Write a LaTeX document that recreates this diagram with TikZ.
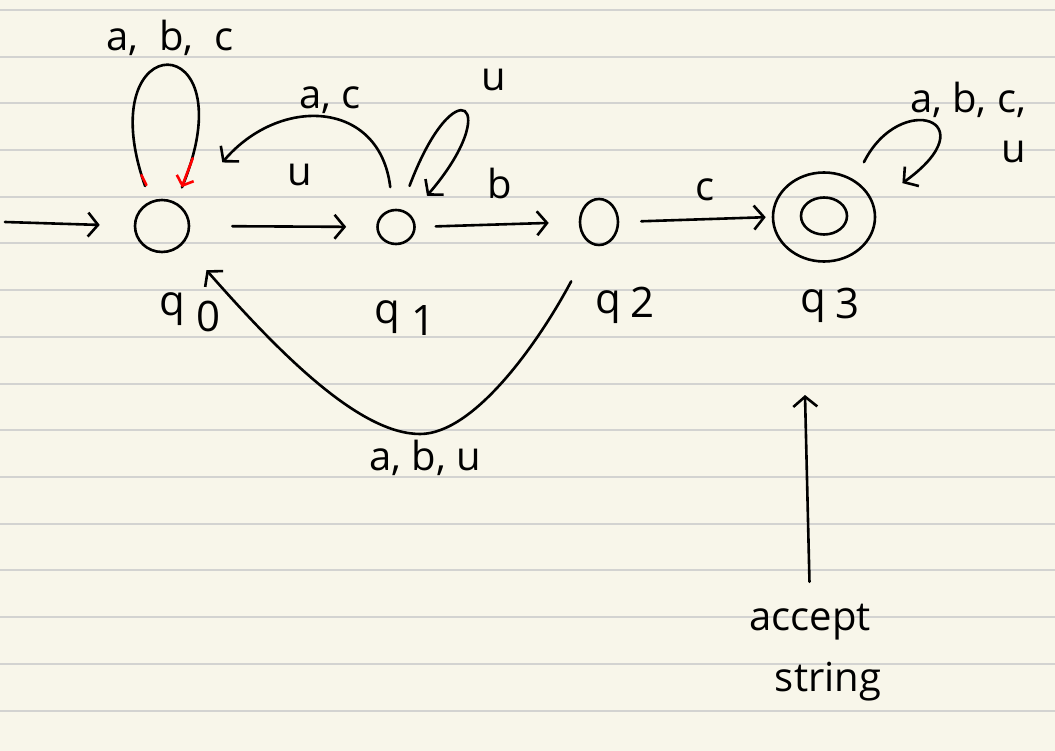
\documentclass[tikz,border=0pt]{standalone}
\usepackage{fontspec}
\setmainfont{Open Sans}
\usetikzlibrary{arrows.meta,shapes.geometric,calc}
\definecolor{paper}{HTML}{F8F6EA}
\definecolor{ruled}{HTML}{D3D3D1}
\begin{document}
\begin{tikzpicture}[x=1pt,y=-1pt,
  state/.style={draw, ellipse, line width=2.6pt, inner sep=0pt},
  edge/.style={draw, line width=2.6pt, line cap=round, -{Straight Barb[length=10pt,width=24pt]}},
  plain/.style={draw, line width=2.6pt, line cap=round},
  lbl/.style={font=\fontsize{40}{44}\selectfont, inner sep=0pt},
  qlbl/.style={font=\fontsize{42}{44}\selectfont, inner sep=0pt}]
\fill[paper] (0,0) rectangle (1055,751);
\useasboundingbox (0,0) rectangle (1055,751);
\foreach \k in {0,...,15} \draw[ruled, line width=2pt] (0,10+46.7*\k) -- (1055,10+46.7*\k);

% states
\node[state, minimum width=54pt, minimum height=52pt] (q0) at (162,226) {};
\node[state, minimum width=37pt, minimum height=34pt] (q1) at (396,227) {};
\node[state, minimum width=38pt, minimum height=46pt] (q2) at (599,222) {};
\node[state, minimum width=102pt, minimum height=89pt] (q3) at (824,217) {};
\node[state, minimum width=46pt, minimum height=37pt] (q3in) at (824,216) {};

% state names
\node[qlbl] (lq0) at (190,312) {q\hspace{12pt}\raisebox{-16pt}{0}};
\node[qlbl] (lq1) at (405,318) {q\hspace{12pt}\raisebox{-12pt}{1}};
\node[qlbl] (lq2) at (625,305) {q\hspace{10pt}\raisebox{-4pt}{2}};
\node[qlbl] (lq3) at (830,305) {q\hspace{10pt}\raisebox{-6pt}{3}};

% start arrow
\coordinate (start) at (5,222);
\draw[edge, shorten >=34pt] (start) -- (q0.west);

% q0 loop (red ends)
\draw[plain, shorten <=16pt, shorten >=16pt] (q0.115) .. controls (88,24) and (250,24) .. (q0.60);
\draw[red, line width=2.6pt, line cap=round] ($(q0.115)+(-9,-26)$) -- ($(q0.115)+(-4,-16)$);
\draw[red, line width=2.6pt, line cap=round, -{Straight Barb[length=8pt,width=18pt]}] ($(q0.60)+(17,-44)$) -- ($(q0.60)+(6,-15)$);
\node[lbl] (l00) at (170,38) {a,\ \ b,\ \ c};

% q0 -> q1
\draw[edge, shorten <=42pt, shorten >=30pt] (q0.east) -- (q1.west);
\node[lbl] (l01) at (300,175) {u};

% q1 -> q0
\draw[edge, shorten <=22pt, shorten >=60pt] (q1.100) .. controls (380,100) and (280,95) .. (q0.40);
\node[lbl] (l10) at (330,100) {a,\ c};

% q1 loop
\draw[edge, shorten <=25pt, shorten >=25pt] (q1.75) .. controls (455,65) and (505,105) .. (q1.40);
\node[lbl] (l11) at (494,80) {u};

% q1 -> q2
\draw[edge, shorten <=20pt, shorten >=30pt] (q1.east) -- (q2.west);
\node[lbl] (l12) at (500,184) {b};

% q2 -> q3
\draw[edge, shorten <=22pt, shorten >=6pt] (q2.east) -- (q3.west);
\node[lbl] (l23) at (705,190) {c};

% q3 loop
\draw[edge, shorten <=20pt, shorten >=35pt] (q3.50) .. controls (900,90) and (990,120) .. (q3.15);
\node[lbl] (l33a) at (968,100) {a,\ b,\ c,};
\node[lbl] (l33b) at (1014,152) {u};

% q2 -> q0
\coordinate (vb) at (420,434);
\draw[edge, shorten <=42pt, shorten >=35pt] (q2.250) .. controls (540,340) and (475,434) .. (vb) .. controls (360,434) and (281,355) .. (q0.320);
\node[lbl] (l20) at (425,458) {a,\ b,\ u};

% accept annotation
\node[lbl] (acc) at (810,622) {accept};
\node[lbl] (str) at (828,682) {string};
\coordinate (acctip) at (805,395);
\draw[edge, shorten <=22pt] (acc.north) -- (acctip);
\end{tikzpicture}
\end{document}
